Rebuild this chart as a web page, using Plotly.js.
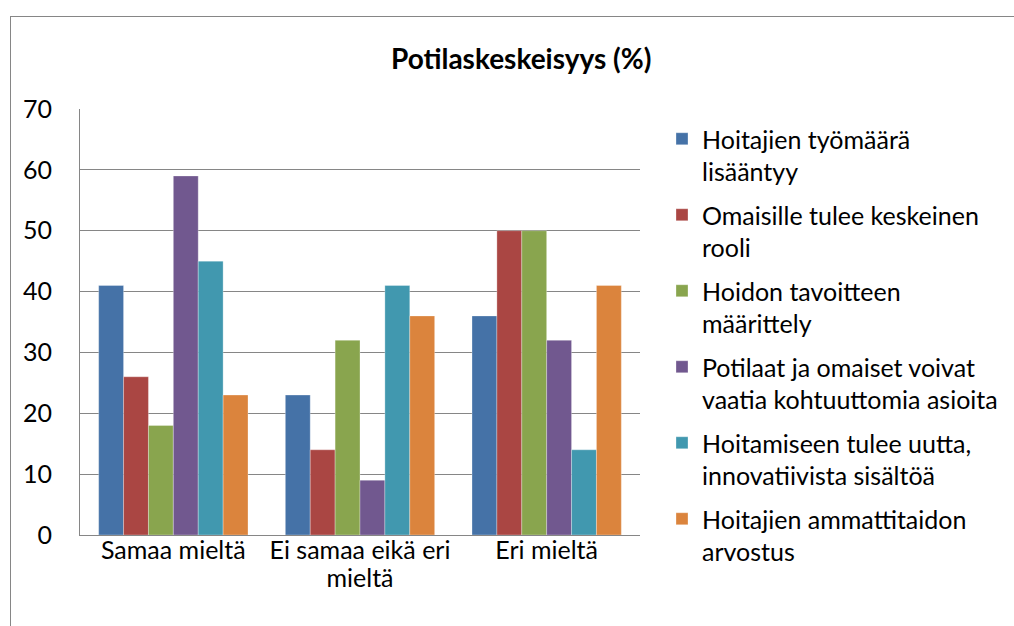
<!DOCTYPE html>
<html>
<head>
<meta charset="utf-8">
<script src="https://cdn.plot.ly/plotly-3.0.1.min.js"></script>
<style>
  html, body { margin: 0; padding: 0; background: #ffffff; }
  #wrap { position: relative; width: 1014px; height: 626px; overflow: hidden; }
  #chart { width: 1014px; height: 626px; }
  #frame { position: absolute; left: 10px; top: 16px; width: 1020px; height: 640px;
           border: 1px solid #868686; box-sizing: border-box; pointer-events: none; }
</style>
</head>
<body>
<div id="wrap">
  <div id="chart"></div>
  <div id="frame"></div>
</div>
<script>
const categories = ["Samaa mieltä", "Ei samaa eikä eri<br>mieltä", "Eri mieltä"];
const seriesNames = [
  "Hoitajien työmäärä<br>lisääntyy",
  "Omaisille tulee keskeinen<br>rooli",
  "Hoidon tavoitteen<br>määrittely",
  "Potilaat ja omaiset voivat<br>vaatia kohtuuttomia asioita",
  "Hoitamiseen tulee uutta,<br>innovatiivista sisältöä",
  "Hoitajien ammattitaidon<br>arvostus"
];
const tyomaara       = [41, 23, 36];
const omaiset        = [26, 14, 50];
const tavoite        = [18, 32, 50];
const kohtuuttomat   = [59, 9, 32];
const innovatiivinen = [45, 41, 14];
const arvostus       = [23, 36, 41];
const seriesValues = [tyomaara, omaiset, tavoite, kohtuuttomat, innovatiivinen, arvostus];
const colors = ["#4572A7", "#AA4643", "#89A54E", "#71588F", "#4198AF", "#DB843D"];
const yTicks = [0, 10, 20, 30, 40, 50, 60, 70];

const FONT = "Lato, 'Open Sans', sans-serif";

const traces = seriesValues.map((vals, i) => ({
  type: "bar",
  x: categories,
  y: vals,
  name: seriesNames[i],
  legendgroup: "g" + i,
  marker: { color: colors[i], line: { color: "rgba(255,255,255,0.6)", width: 0.5 } },
  hoverinfo: "y+name"
}));

const layout = {
  width: 1014,
  height: 626,
  paper_bgcolor: "#ffffff",
  plot_bgcolor: "#ffffff",
  margin: { l: 80, r: 374, t: 109, b: 91 },
  barmode: "group",
  bargap: 0.2,
  bargroupgap: 0,
  title: {
    text: "<b>Potilaskeskeisyys (%)</b>",
    font: { family: FONT, size: 28, color: "#000000" },
    x: 0.514, xanchor: "center",
    y: 1 - 59 / 626, yanchor: "middle"
  },
  font: { family: FONT, size: 25, color: "#000000" },
  xaxis: {
    type: "category",
    showline: true, linecolor: "#868686", linewidth: 1,
    ticks: "", showgrid: false,
    tickvals: categories,
    ticktext: categories.map(c => '<span style="font-size:25px">' + c + '</span>'),
    ticklabelstandoff: -2,
    tickfont: { family: FONT, size: 21, color: "#000000" }
  },
  yaxis: {
    range: [0, 70],
    tickvals: yTicks,
    ticktext: yTicks.map(String),
    showline: true, linecolor: "#868686", linewidth: 1,
    showgrid: true, gridcolor: "#868686", gridwidth: 1,
    zeroline: false,
    ticks: "",
    ticklabelstandoff: 22,
    tickfont: { family: FONT, size: 25, color: "#000000" }
  },
  showlegend: true,
  legend: {
    x: 662 / 1014, xref: "container",
    y: 1 - 116 / 626, yref: "container",
    xanchor: "left", yanchor: "top",
    valign: "top",
    traceorder: "grouped",
    font: { family: FONT, size: 25, color: "#000000" },
    tracegroupgap: 8,
    itemwidth: 30,
    maxheight: 620,
    bgcolor: "rgba(0,0,0,0)"
  }
};

Plotly.newPlot("chart", traces, layout, { displayModeBar: false, staticPlot: true });
</script>
</body>
</html>
